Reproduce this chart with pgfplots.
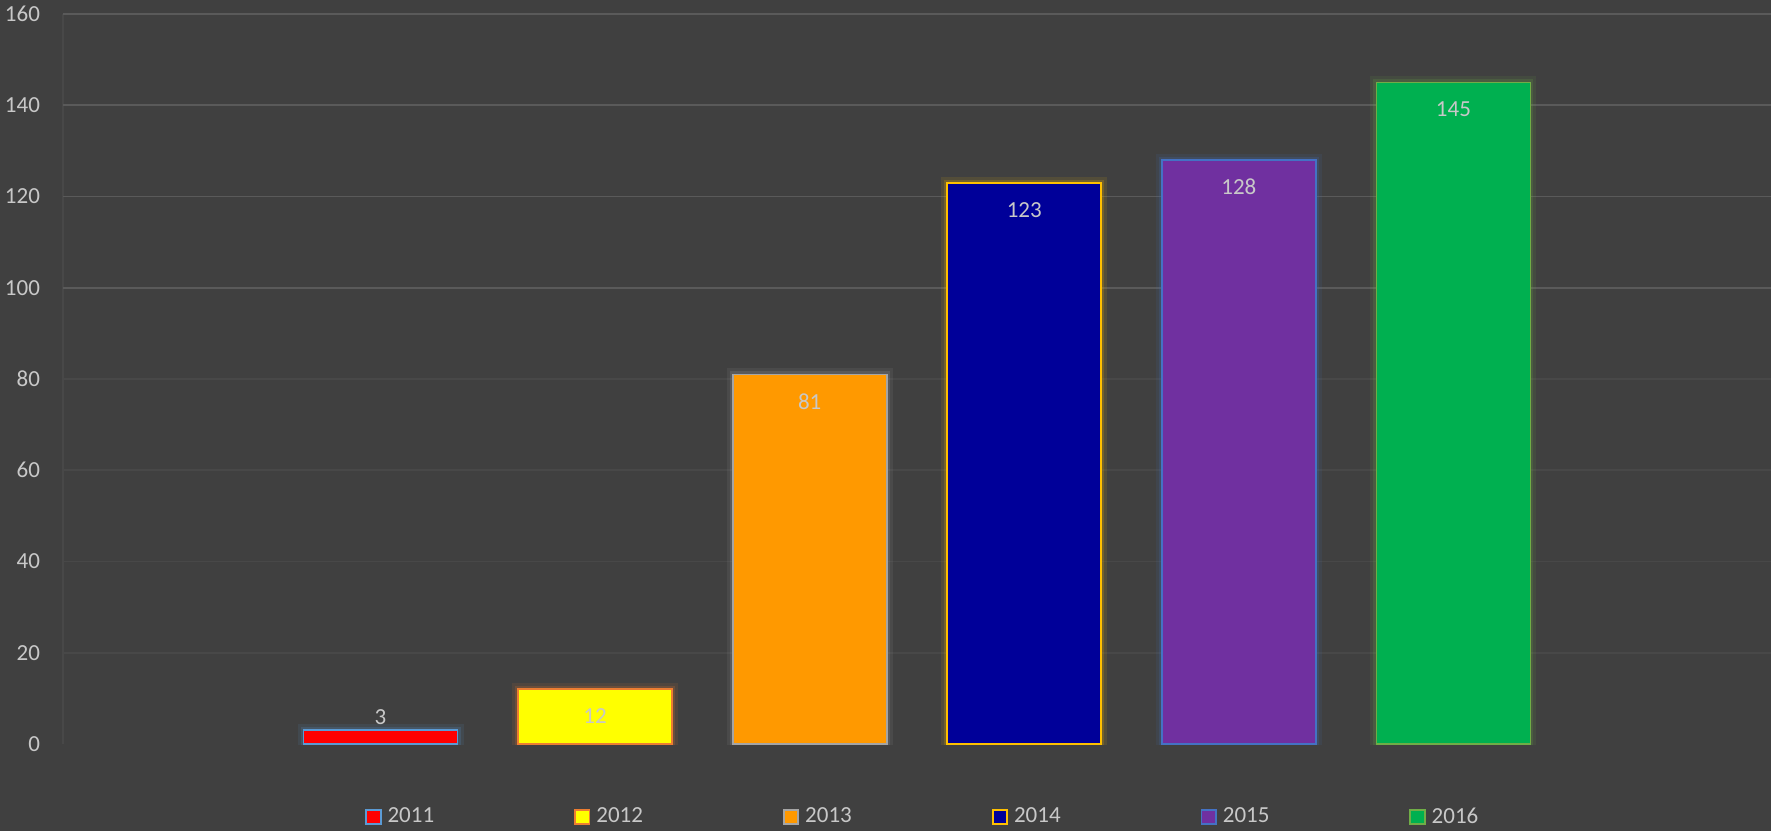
\documentclass[border=0pt]{standalone}
\usepackage{pgfplots}
\pgfplotsset{compat=1.18}
\usepackage{fontspec}
\setmainfont{Carlito}

\definecolor{bg}{HTML}{404040}
\definecolor{gridhi}{HTML}{5A5A5A}
\definecolor{gridlo}{HTML}{484848}
\definecolor{txt}{HTML}{C8C8C8}

\definecolor{f2011}{HTML}{FF0000}\definecolor{o2011}{HTML}{5B9BD5}
\definecolor{f2012}{HTML}{FFFF00}\definecolor{o2012}{HTML}{ED7D31}
\definecolor{f2013}{HTML}{FF9900}\definecolor{o2013}{HTML}{A5A5A5}
\definecolor{f2014}{HTML}{000099}\definecolor{o2014}{HTML}{FFC000}
\definecolor{f2015}{HTML}{7030A0}\definecolor{o2015}{HTML}{4472C4}
\definecolor{f2016}{HTML}{00B050}\definecolor{o2016}{HTML}{70AD47}

\pgfplotsset{
  yearbar/.style 2 args={
    fill=#1, draw=#2, line width=0.9pt,
    legend image code/.code={
      \draw[fill=#1, draw=#2, line width=0.9pt] (0pt,-3.6pt) rectangle (7.2pt,3.6pt);}
  },
  % soft halo round a bar, kept out of the legend
  glow/.style={forget plot, draw=none, fill=none, nodes near coords={},
    preaction={draw=#1, draw opacity=0.10, line width=6pt},
    preaction={draw=#1, draw opacity=0.18, line width=3pt}},
}

\begin{document}
\begin{tikzpicture}
% dark page behind everything, also fixes the picture size
\path[use as bounding box, fill=bg] (-31.5pt,-43.5pt) rectangle (854pt,372pt);
\begin{axis}[
    scale only axis,
    width=854pt, height=365pt,
    at={(0,0)}, anchor=south west,
    xmin=-1.48, xmax=6.48,
    ymin=0, ymax=160,
    xtick=\empty,
    ytick={0,20,...,160},
    minor ytick={20,40,60,80},
    yminorgrids,
    minor grid style={gridlo, line width=0.8pt},
    extra y ticks={100,120,140,160},
    extra y tick labels={},
    extra y tick style={ymajorgrids=true, major grid style={gridhi, line width=0.8pt}},
    major tick length=0pt, minor tick length=0pt,
    axis x line=none,
    axis y line*=left,
    y axis line style={gridlo, line width=0.8pt, -},
    /pgf/number format/assume math mode=true,
    tick label style={font=\fontsize{11.5}{12}\selectfont, text=txt},
    yticklabel style={anchor=east, xshift=-8pt},
    ybar, bar width=77pt, bar shift=0pt,
    nodes near coords,
    every node near coord/.append style={font=\fontsize{11.5}{12}\selectfont, text=txt, anchor=center, yshift=-13.5pt},
    legend columns=6,
    legend style={at={(0.504,-0.1)}, anchor=center, draw=none, fill=none,
        font=\fontsize{11.5}{12}\selectfont, text=txt,
        /tikz/every even column/.append style={column sep=68pt},
        /tikz/every odd column/.append style={column sep=1pt}},
    clip=true,
]
\addplot[glow=o2011] coordinates {(0,3)};
\addplot[glow=o2012] coordinates {(1,12)};
\addplot[glow=o2013] coordinates {(2,81)};
\addplot[glow=o2014] coordinates {(3,123)};
\addplot[glow=o2015] coordinates {(4,128)};
\addplot[glow=o2016] coordinates {(5,145)};

\addplot[yearbar={f2011}{o2011},
  every node near coord/.append style={yshift=20pt}] coordinates {(0,3)};
\addlegendentry{2011}
\addplot[yearbar={f2012}{o2012}] coordinates {(1,12)};
\addlegendentry{2012}
\addplot[yearbar={f2013}{o2013}] coordinates {(2,81)};
\addlegendentry{2013}
\addplot[yearbar={f2014}{o2014}] coordinates {(3,123)};
\addlegendentry{2014}
\addplot[yearbar={f2015}{o2015}] coordinates {(4,128)};
\addlegendentry{2015}
\addplot[yearbar={f2016}{o2016}] coordinates {(5,145)};
\addlegendentry{2016}
\end{axis}
\end{tikzpicture}
\end{document}
